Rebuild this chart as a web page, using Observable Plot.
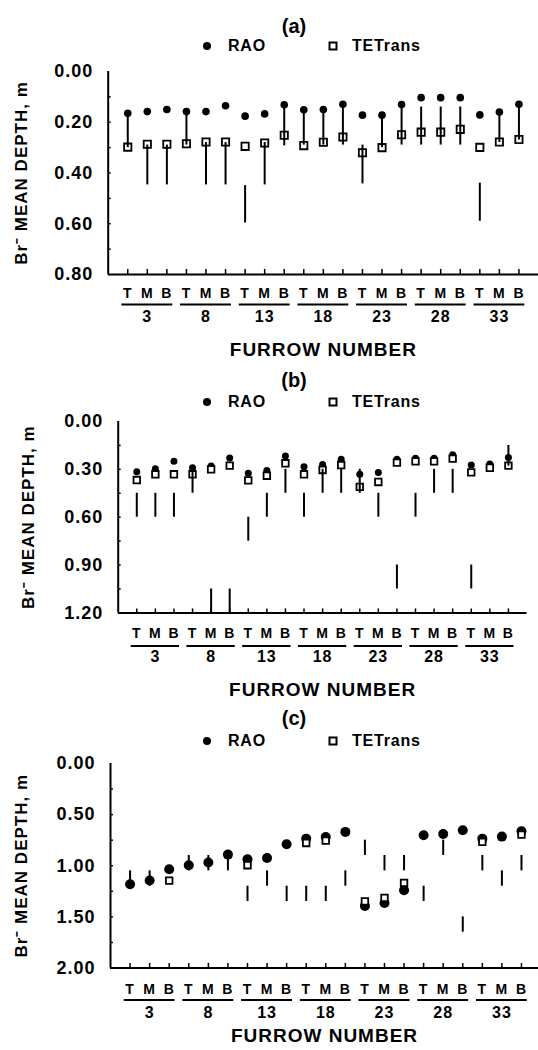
<!DOCTYPE html>
<html><head><meta charset="utf-8">
<script src="https://cdn.jsdelivr.net/npm/d3@7"></script>
<script src="https://cdn.jsdelivr.net/npm/@observablehq/plot@0.6"></script>
<style>
html,body{margin:0;padding:0;background:#fff;overflow:hidden;width:538px;height:1050px}
#root{position:relative;width:538px;height:1050px;font-family:"Liberation Sans",Arial,Helvetica,sans-serif;color:#000}
.abs{position:absolute;white-space:nowrap}
.title{font-weight:bold;font-size:20px;line-height:20px;transform:translate(-50%,-50%)}
.leg{font-size:16px;line-height:16px;font-weight:bold;letter-spacing:0.8px;transform:translateY(-50%)}
.sw-c{width:8px;height:8px;border-radius:50%;background:#000;transform:translate(-50%,-50%)}
.sw-s{width:5px;height:5px;border:2px solid #000;background:#fff;transform:translate(-50%,-50%)}
</style></head><body><div id="root"></div><script>
// ---- data ----
const furrows = [3, 8, 13, 18, 23, 28, 33];
const locations = ["T", "M", "B"];
const seriesNames = ["RAO", "TETrans"];
const panelNames = ["(a)", "(b)", "(c)"];
const yLabel = "Br\u207B MEAN DEPTH, m";
const xLabel = "FURROW NUMBER";

// panel (a)
const raoA = [0.165, 0.158, 0.150, 0.158, 0.158, 0.135, 0.176, 0.167, 0.131, 0.151, 0.150, 0.129, 0.172, 0.172, 0.130, 0.103, 0.103, 0.103, 0.171, 0.160, 0.129];
const tetA = [0.298, 0.287, 0.287, 0.285, 0.278, 0.278, 0.295, 0.282, 0.251, 0.292, 0.279, 0.258, 0.320, 0.300, 0.249, 0.239, 0.239, 0.228, 0.299, 0.278, 0.268];
const loA  = [0.165, 0.29, 0.29, 0.16, 0.28, 0.28, 0.45, 0.28, 0.13, 0.15, 0.15, 0.13, 0.29, 0.17, 0.13, 0.14, 0.14, 0.14, 0.44, 0.16, 0.13];
const hiA  = [0.30, 0.447, 0.447, 0.29, 0.447, 0.447, 0.597, 0.447, 0.293, 0.29, 0.29, 0.29, 0.443, 0.30, 0.29, 0.29, 0.29, 0.29, 0.59, 0.28, 0.27];
const yTicksA = [0, 0.2, 0.4, 0.6, 0.8];
const yMinorA = [0.1, 0.2, 0.3, 0.4, 0.5, 0.6, 0.7];

// panel (b)
const raoB = [0.315, 0.296, 0.250, 0.290, 0.279, 0.229, 0.325, 0.308, 0.217, 0.283, 0.269, 0.237, 0.331, 0.319, 0.237, 0.231, 0.231, 0.208, 0.273, 0.267, 0.225];
const tetB = [0.367, 0.331, 0.331, 0.331, 0.300, 0.277, 0.369, 0.340, 0.262, 0.331, 0.304, 0.273, 0.410, 0.379, 0.258, 0.250, 0.250, 0.233, 0.319, 0.290, 0.277];
const loB  = [0.45, 0.45, 0.45, 0.30, 1.05, 1.05, 0.60, 0.45, 0.30, 0.45, 0.30, 0.30, 0.30, 0.45, 0.90, 0.45, 0.30, 0.30, 0.90, null, 0.15];
const hiB  = [0.60, 0.60, 0.60, 0.45, 1.20, 1.20, 0.75, 0.60, 0.45, 0.60, 0.45, 0.45, 0.45, 0.60, 1.05, 0.60, 0.45, 0.45, 1.05, null, 0.28];
const yTicksB = [0, 0.3, 0.6, 0.9, 1.2];
const yMinorB = [0.15, 0.3, 0.45, 0.6, 0.75, 0.9, 1.05];

// panel (c)
const raoC = [1.181, 1.145, 1.035, 0.995, 0.969, 0.891, 0.937, 0.924, 0.790, 0.735, 0.718, 0.669, 1.393, 1.364, 1.240, 0.702, 0.689, 0.653, 0.735, 0.715, 0.663];
const tetC = [null, null, 1.145, null, null, null, 0.995, null, null, 0.777, 0.754, null, 1.348, 1.315, 1.168, null, null, null, 0.767, null, 0.695];
const loC  = [1.05, 1.05, null, 0.90, 0.90, 0.90, 1.20, 1.05, 1.20, 1.20, 1.20, 1.05, 0.75, 0.90, 0.90, 1.20, 0.75, 1.50, 0.90, 1.05, 0.90];
const hiC  = [1.20, 1.20, null, 1.05, 1.05, 1.05, 1.35, 1.20, 1.35, 1.35, 1.35, 1.20, 0.90, 1.05, 1.05, 1.35, 0.90, 1.65, 1.05, 1.20, 1.05];
const yTicksC = [0, 0.5, 1.0, 1.5, 2.0];
const yMinorC = [0.25, 0.5, 0.75, 1.0, 1.25, 1.5, 1.75];

// ---- layout ----
const sites = furrows.flatMap(f => locations.map(loc => ({furrow: f, loc})));
sites.forEach((s, i) => s.pos = i + 1);

const panels = [
  {name: panelNames[0], rao: raoA, tet: tetA, lo: loA, hi: hiA, yTicks: yTicksA, yMinor: yMinorA,
   plotTop: 71, plotH: 203, mb: 90, ml: 107.7, mr: 0, xMax: 22, xTick: 0.15, yTick: 0.02,
   tmbPad: 14, ulDy: 30, numDy: 47, labDy: 81, yLabDx: -87, rC: 3.8, rS: 4.1, titleY: 26, legY: 46},
  {name: panelNames[1], rao: raoB, tet: tetB, lo: loB, hi: hiB, yTicks: yTicksB, yMinor: yMinorB,
   plotTop: 421.3, plotH: 191.4, mb: 90, ml: 117.7, mr: 11.5, xMax: 22, xTick: 0.16, yTick: 0.025,
   tmbPad: 15, ulDy: 33, numDy: 49, labDy: 83, yLabDx: -90, rC: 3.5, rS: 3.7, titleY: 380, legY: 402},
  {name: panelNames[2], rao: raoC, tet: tetC, lo: loC, hi: hiC, yTicks: yTicksC, yMinor: yMinorC,
   plotTop: 763.2, plotH: 204.5, mb: 82, ml: 110, mr: 0, xMax: 21.87, xTick: 0.15, yTick: 0.045,
   tmbPad: 16, ulDy: 32, numDy: 50, labDy: 74, yLabDx: -88.5, rC: 5, rS: 3.7, titleY: 718, legY: 741}
];

const root = document.getElementById("root");
function el(cls, x, y, text) {
  const d = document.createElement("div");
  d.className = "abs " + cls;
  d.style.left = x + "px"; d.style.top = y + "px";
  if (text) d.textContent = text;
  root.appendChild(d);
  return d;
}

for (const cfg of panels) {
  const mt = 10;
  const rows = sites.map((s, i) => ({...s, rao: cfg.rao[i], tet: cfg.tet[i], lo: cfg.lo[i], hi: cfg.hi[i]}));
  const groups = furrows.map(f => {
    const m = rows.filter(r => r.furrow === f);
    return {furrow: f, first: m[0].pos, mid: m[1].pos, last: m[2].pos};
  });
  const yMax = cfg.yTicks[cfg.yTicks.length - 1];
  const svg = Plot.plot({
    width: 538,
    height: mt + cfg.plotH + cfg.mb,
    marginTop: mt, marginBottom: cfg.mb, marginLeft: cfg.ml, marginRight: cfg.mr,
    x: {domain: [0, cfg.xMax]},
    y: {domain: [0, yMax], reverse: true},
    style: {fontFamily: "Liberation Sans, Arial, sans-serif", fontSize: "14px", color: "black",
            background: "transparent", overflow: "visible", letterSpacing: "1px"},
    marks: [
      Plot.axisY({ticks: cfg.yTicks, tickFormat: d3.format(".2f"), tickSize: 0, tickPadding: 15, fontSize: 18, fontWeight: "bold"}),
      Plot.axisX({ticks: sites.map(s => s.pos), tickFormat: p => sites[p - 1].loc, tickSize: 0, tickPadding: cfg.tmbPad, fontSize: 14, fontWeight: "bold"}),
      Plot.ruleY(cfg.yMinor, {x1: 0, x2: cfg.xTick, strokeWidth: 1.5}),
      Plot.ruleX(sites, {x: "pos", y1: yMax, y2: yMax - cfg.yTick, strokeWidth: 1.5}),
      Plot.ruleX([0], {strokeWidth: 2}),
      Plot.ruleY([yMax], {strokeWidth: 2}),
      Plot.ruleY(groups, {y: () => yMax, x1: d => d.first - 0.3, x2: d => d.last + 0.3, dy: cfg.ulDy, strokeWidth: 2}),
      Plot.text(groups, {x: "mid", frameAnchor: "bottom", dy: cfg.numDy, text: d => String(d.furrow), fontSize: 16, fontWeight: "bold"}),
      Plot.text([xLabel], {frameAnchor: "bottom", dy: cfg.labDy, text: d => d, fontSize: 19, fontWeight: "bold"}),
      Plot.text([yLabel], {frameAnchor: "left", textAnchor: "middle", dx: cfg.yLabDx, rotate: -90, text: d => d, fontSize: 17, fontWeight: "bold"}),
      Plot.dot(rows.filter(r => r.rao != null), {x: "pos", y: "rao", r: cfg.rC, fill: "black", stroke: "none"}),
      Plot.dot(rows.filter(r => r.tet != null), {x: "pos", y: "tet", symbol: "square", r: cfg.rS, fill: "white", stroke: "black", strokeWidth: 1.8}),
      Plot.ruleX(rows.filter(r => r.lo != null), {x: "pos", y1: "lo", y2: "hi", strokeWidth: 2})
    ]
  });
  svg.style.position = "absolute";
  svg.style.left = "0px";
  svg.style.top = (cfg.plotTop - mt) + "px";
  root.appendChild(svg);

  el("title", 294, cfg.titleY, cfg.name);
  el("sw-c", 207, cfg.legY);
  el("leg", 228, cfg.legY, seriesNames[0]);
  el("sw-s", 333, cfg.legY);
  el("leg", 352, cfg.legY, seriesNames[1]);
}
</script></body></html>
